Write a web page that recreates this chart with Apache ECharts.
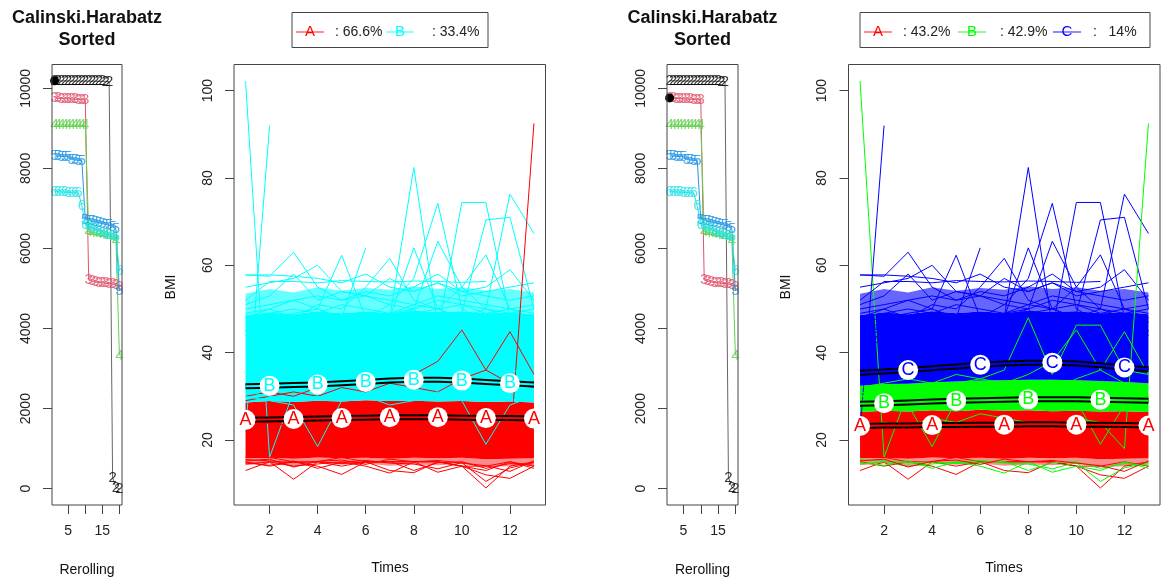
<!DOCTYPE html>
<html>
<head>
<meta charset="utf-8">
<script src="https://cdn.jsdelivr.net/npm/echarts@6/dist/echarts.min.js"></script>
<style>
html, body { margin: 0; background: #fff; }
#chart { width: 1161px; height: 581px; }
</style>
</head>
<body>
<div id="chart"></div>
<script>
// criterion values (Calinski.Harabatz) per reroll, sorted, for 2..6 clusters
var rerolls = [1, 2, 3, 4, 5, 6, 7, 8, 9, 10, 11, 12, 13, 14, 15, 16, 17, 18, 19, 20];
var crit2 = [10188, 10187, 10186, 10185, 10184, 10183, 10182, 10181, 10180, 10179, 10178, 10177, 10176, 10175, 10174, 10172, 10170, 280, 30, 0];
var crit3 = [9760, 9750, 9745, 9740, 9735, 9730, 9725, 9720, 9715, 9710, 5210, 5180, 5160, 5150, 5140, 5130, 5120, 5110, 5090, 5030];
var crit4 = [9090, 9088, 9086, 9085, 9084, 9083, 9082, 9081, 9080, 9078, 6420, 6400, 6380, 6370, 6350, 6330, 6300, 6280, 6200, 3330];
var crit5 = [8310, 8305, 8300, 8295, 8290, 8220, 8210, 8200, 8190, 6720, 6700, 6680, 6660, 6640, 6620, 6600, 6580, 6550, 6480, 4950];
var crit6 = [7420, 7415, 7410, 7405, 7400, 7395, 7390, 7385, 7060, 6600, 6560, 6520, 6480, 6440, 6400, 6370, 6340, 6310, 6280, 5430];
var critTicks = [0, 2000, 4000, 6000, 8000, 10000];
var rerollTicks = [5, 10, 15, 20];
var rerollLabels = [5, 15];

// trajectories (BMI over times)
var times = [1, 2, 3, 4, 5, 6, 7, 8, 9, 10, 11, 12, 13];
var timeTicks = [2, 4, 6, 8, 10, 12];
var bmiTicks = [20, 40, 60, 80, 100];

// edges of the dense bundles of trajectories
var bandFloor = [14.2, 14.6, 14.0, 14.8, 14.3, 14.6, 14.1, 14.4, 14.2, 14.5, 13.8, 14.0, 14.3];
var redLow = [15.8, 15.9, 15.7, 16.0, 15.8, 15.9, 15.7, 15.9, 15.8, 15.9, 15.6, 15.7, 15.8];
var redTop2 = [28.6, 28.9, 28.7, 29.0, 28.8, 29.1, 28.9, 29.0, 28.8, 28.9, 28.7, 28.8, 28.6];
var redTop3 = [26.4, 26.7, 26.5, 26.8, 26.6, 26.9, 26.7, 26.8, 26.6, 26.7, 26.5, 26.6, 26.4];
var greenTop3 = [32.4, 32.8, 32.9, 33.2, 33.4, 33.6, 33.7, 33.8, 33.8, 33.7, 33.5, 33.3, 33.0];
var upperTop = [48.6, 49.2, 48.8, 49.5, 49.0, 49.4, 49.1, 49.6, 49.3, 49.5, 49.0, 49.2, 48.8];
var upperFaint = [53.5, 54.6, 53.8, 55.0, 54.2, 54.8, 54.4, 55.2, 54.6, 55.0, 54.2, 54.6, 53.8];

// single trajectories that stand out of the bundles
var trajectories = [
    [102.2, 16.0, 31.0, 33.0, 30.5, 32.0, 31.0, 33.0, 30.0, 32.0, 31.0, 30.0, 29.5],
    [22.0, 92.0, null, 46.0, 47.0, 45.0, 48.0, 46.0, 44.0, 47.0, 45.0, 46.0, 44.0],
    [41.0, 43.0, 42.0, 44.0, 45.0, 46.0, 48.0, 82.4, 46.0, 44.0, 45.0, 43.0, 44.0],
    [44.0, 45.0, 43.0, 46.0, 47.0, 48.0, 51.0, 57.0, 74.2, 50.0, 47.0, 46.0, 45.0],
    [43.0, 44.0, 45.0, 44.0, 46.0, 47.0, 48.0, 50.0, 45.0, 74.4, 74.4, 48.0, 47.0],
    [45.0, 46.0, 44.0, 45.0, 47.0, 46.0, 45.0, 47.0, 48.0, 49.0, 70.4, 71.0, 50.0],
    [44.0, 43.0, 45.0, 46.0, 44.0, 47.0, 45.0, 46.0, 47.0, 48.0, 50.0, 76.3, 67.3],
    [46.0, 45.0, 47.0, 46.0, 48.0, 47.0, 49.0, 50.0, 65.5, 55.0, 50.0, 48.0, 47.0],
    [45.0, 47.0, 46.0, 48.0, 47.0, 49.0, 48.0, 64.0, 50.0, 48.0, 47.0, 46.0, 45.0],
    [57.8, 57.5, 63.0, 55.0, 52.0, 53.0, 51.0, 50.0, 52.0, 51.0, 50.0, 49.0, 50.0],
    [48.0, 50.0, 52.0, 50.0, 62.3, 48.0, 47.0, 49.0, 50.0, 48.0, 47.0, 46.0, 48.0],
    [47.0, 48.0, 49.0, 50.0, 48.0, 64.0, null, null, null, null, null, null, null],
    [49.0, 50.0, 48.0, 51.0, 50.0, 55.0, 61.6, 52.0, 50.0, 51.0, 49.0, 50.0, 48.0],
    [48.0, 49.0, 50.0, 49.0, 51.0, 50.0, 49.0, 51.0, 50.0, 55.0, 62.4, 50.0, 49.0],
    [55.0, 56.0, 57.0, 60.0, 54.0, 53.0, 52.0, 51.0, 53.0, 52.0, 51.0, 50.0, 51.0],
    [57.8, 57.8, 57.5, 57.0, 56.0, 58.0, 55.0, 54.0, 56.0, 54.0, 53.0, 52.0, 53.0],
    [52.0, 56.3, 56.3, 56.0, 56.5, 56.3, 56.2, 56.4, 56.3, 56.1, 56.3, null, null],
    [50.0, 51.0, 52.0, 53.0, 52.0, 54.0, 53.0, 55.0, 58.0, 54.0, 55.0, 59.0, 52.0],
    [51.0, 53.0, 58.0, 52.0, 54.0, 53.0, 57.0, 54.0, 56.0, 53.0, 54.0, 55.0, 56.0],
    [22.0, 24.0, 23.0, 25.0, 24.0, 26.0, 25.0, 24.0, 23.0, 25.0, 24.0, 18.0, 92.5],
    [32.0, 33.0, 34.0, 33.0, 35.0, 34.0, 36.0, 48.0, 35.0, 46.3, 46.3, 36.0, 35.0],
    [30.0, 31.0, 30.0, 32.0, 33.0, 34.0, 33.0, 35.0, 38.0, 45.2, 36.0, 33.0, 32.0],
    [29.0, 30.0, 31.0, 30.0, 32.0, 31.0, 33.0, 32.0, 31.0, 34.0, 36.0, 44.8, 35.0],
    [30.0, 29.0, 28.0, 18.5, 29.0, 30.0, 29.0, 30.0, 31.0, 29.0, 30.0, 29.0, 30.0],
    [31.0, 30.0, 29.0, 30.0, 29.0, 30.0, 28.0, 29.0, 30.0, 29.0, 19.0, 28.0, 30.0],
    [13.0, 15.0, 11.0, 15.0, 14.0, 15.0, 15.0, 15.0, 15.0, 14.0, 14.0, 15.0, 14.0],
    [16.0, 16.0, 15.0, 15.0, 16.0, 15.0, 15.0, 15.0, 15.0, 14.0, 9.0, 14.0, 15.0],
    [15.0, 14.0, 15.0, 14.0, 12.1, 15.0, 13.0, 12.5, 15.0, 14.0, 12.0, 11.2, 14.0],
    [14.5, 15.0, 14.0, 14.5, 15.0, 14.0, 12.4, 15.0, 12.6, 14.0, 13.0, 15.0, 13.5],
    [15.5, 15.2, 14.8, 15.0, 14.6, 14.9, 15.1, 13.0, 14.8, 15.0, 13.5, 14.6, 14.2],
    [14.8, 14.2, 15.2, 13.5, 14.9, 15.3, 14.7, 14.5, 13.4, 14.8, 10.5, 13.6, 14.8],
    [15.2, 15.6, 13.8, 15.1, 15.4, 14.4, 15.6, 15.0, 15.3, 14.7, 14.1, 12.8, 15.2]
];
var cluster2 = ['B', 'B', 'B', 'B', 'B', 'B', 'B', 'B', 'B', 'B', 'B', 'B', 'B', 'B', 'B', 'B',
    'B', 'B', 'B', 'A', 'B', 'A', 'A', 'B', 'B', 'A', 'A', 'A', 'A', 'A', 'A', 'A'];
var cluster3 = ['B', 'C', 'C', 'C', 'C', 'C', 'C', 'C', 'C', 'C', 'C', 'C', 'C', 'C', 'C', 'C',
    'C', 'C', 'C', 'B', 'B', 'B', 'B', 'B', 'B', 'A', 'A', 'A', 'B', 'B', 'B', 'A'];

// mean trajectories
var meanA2 = [24.6, 24.7, 24.8, 24.9, 25.0, 25.1, 25.2, 25.2, 25.2, 25.1, 25.0, 25.0, 24.9];
var meanB2 = [32.3, 32.4, 32.6, 32.7, 33.0, 33.3, 33.6, 33.8, 33.8, 33.6, 33.3, 33.0, 32.7];
var meanA3 = [23.2, 23.3, 23.3, 23.4, 23.4, 23.5, 23.5, 23.6, 23.6, 23.5, 23.5, 23.4, 23.3];
var meanB3 = [28.3, 28.4, 28.6, 28.8, 29.0, 29.1, 29.2, 29.3, 29.3, 29.3, 29.2, 29.1, 29.0];
var meanC3 = [35.4, 35.7, 36.0, 36.4, 36.8, 37.2, 37.5, 37.7, 37.7, 37.5, 37.1, 36.6, 36.2];
var marksA2 = [1, 3, 5, 7, 9, 11, 13];
var marksB2 = [2, 4, 6, 8, 10, 12];
var marksA3 = [1, 4, 7, 10, 13];
var marksB3 = [2, 5, 8, 11];
var marksC3 = [3, 6, 9, 12];

// legends
var legend2Names = ['A', 'B'];
var legend2Pct = [': 66.6%', ': 33.4%'];
var legend3Names = ['A', 'B', 'C'];
var legend3Pct = [': 43.2%', ': 42.9%', ':   14%'];

var FONT = '"Liberation Sans", Arial, sans-serif';
var critColors = ['#000000', '#DF536B', '#61D04F', '#2297E6', '#28E2E5'];
var clusterColors = { A: '#FF0000', B: '#00FFFF' };
var clusterColors3 = { A: '#FF0000', B: '#00FF00', C: '#0000FF' };

var myChart = echarts.init(document.getElementById('chart'), null, { renderer: 'canvas' });

var boxes = [[52, 70], [234, 311.5], [667, 71], [848.5, 311.5]];
function boxGrid(b) {
    return { left: b[0], top: 64.5, width: b[1], height: 440.5, show: false };
}
function xAxisFor(gi, min, max, ticks, labels) {
    return {
        type: 'value', gridIndex: gi, min: min, max: max,
        axisLine: { show: false, onZero: false }, splitLine: { show: false },
        axisTick: { show: true, length: 9, customValues: ticks, lineStyle: { color: '#444' } },
        axisLabel: { customValues: labels, margin: 19, fontSize: 14, color: '#222', fontFamily: FONT }
    };
}
function yAxisFor(gi, min, max, ticks) {
    return {
        type: 'value', gridIndex: gi, min: min, max: max,
        axisLine: { show: false, onZero: false }, splitLine: { show: false },
        axisTick: { show: true, length: 9, customValues: ticks, lineStyle: { color: '#444' } },
        axisLabel: { customValues: ticks, rotate: 90, margin: 19, fontSize: 14, color: '#222', fontFamily: FONT,
            formatter: function(v) { return String(v); } }
    };
}
function pairs(xs, ys) {
    return xs.map(function(x, i) { return [x, ys[i]]; });
}

var series = [];

// sorted criterion panels
[crit2, crit3, crit4, crit5, crit6].forEach(function(vals, k) {
    [0, 2].forEach(function(gi) {
        series.push({
            type: 'line', z: 3, xAxisIndex: gi, yAxisIndex: gi, data: pairs(rerolls, vals),
            symbol: 'none', lineStyle: { color: k === 0 ? '#666' : critColors[k], width: 1 }
        });
        series.push({
            type: 'scatter', z: 4, xAxisIndex: gi, yAxisIndex: gi, data: pairs(rerolls, vals),
            symbolSize: 1, itemStyle: { color: 'rgba(0,0,0,0)' },
            label: { show: true, position: 'inside', formatter: String(k + 2),
                color: critColors[k], fontSize: 15, fontFamily: FONT }
        });
    });
});
series.push({ type: 'scatter', z: 5, xAxisIndex: 0, yAxisIndex: 0, data: [[rerolls[0], crit2[0]]],
    symbolSize: 9, itemStyle: { color: '#000', opacity: 1 } });
series.push({ type: 'scatter', z: 5, xAxisIndex: 2, yAxisIndex: 2, data: [[rerolls[0], crit3[0]]],
    symbolSize: 9, itemStyle: { color: '#000', opacity: 1 } });

// bundles of trajectories: polygon between a lower and an upper edge
function band(gi, lower, upper, fill) {
    series.push({
        type: 'custom', z: 1, xAxisIndex: gi, yAxisIndex: gi, silent: true,
        data: [[times[0], upper[0]]],
        renderItem: function(params, api) {
            var pts = [];
            times.forEach(function(t, i) { pts.push(api.coord([t, upper[i]])); });
            for (var i = times.length - 1; i >= 0; i--) pts.push(api.coord([times[i], lower[i]]));
            return { type: 'polygon', shape: { points: pts }, style: { fill: fill } };
        }
    });
}
band(1, bandFloor, redLow, 'rgba(255,0,0,0.45)');
band(1, redLow, redTop2, '#FF0000');
band(1, redTop2, upperTop, '#00FFFF');
band(1, upperTop, upperFaint, 'rgba(0,255,255,0.6)');
band(3, bandFloor, redLow, 'rgba(255,0,0,0.45)');
band(3, redLow, redTop3, '#FF0000');
band(3, redTop3, greenTop3, '#00FF00');
band(3, greenTop3, upperTop, '#0000FF');
band(3, upperTop, upperFaint, 'rgba(0,0,255,0.6)');

trajectories.forEach(function(tr, j) {
    series.push({ type: 'line', z: 2, xAxisIndex: 1, yAxisIndex: 1, data: pairs(times, tr), symbol: 'none',
        lineStyle: { color: clusterColors[cluster2[j]], width: 1 } });
    series.push({ type: 'line', z: 2, xAxisIndex: 3, yAxisIndex: 3, data: pairs(times, tr), symbol: 'none',
        lineStyle: { color: clusterColors3[cluster3[j]], width: 1 } });
});

function meanLine(gi, vals, color, letter, marks) {
    series.push({ type: 'line', z: 3, xAxisIndex: gi, yAxisIndex: gi, data: pairs(times, vals), symbol: 'none',
        lineStyle: { color: '#000', width: 6 } });
    series.push({ type: 'line', z: 3, xAxisIndex: gi, yAxisIndex: gi, data: pairs(times, vals), symbol: 'none',
        lineStyle: { color: color, width: 2 } });
    series.push({ type: 'scatter', z: 6, xAxisIndex: gi, yAxisIndex: gi, symbolSize: 20,
        data: marks.map(function(t) { return [t, vals[t - 1]]; }),
        itemStyle: { color: '#fff', opacity: 1 },
        label: { show: true, position: 'inside', formatter: letter, color: color, fontSize: 18, fontFamily: FONT } });
}
meanLine(1, meanA2, clusterColors.A, 'A', marksA2);
meanLine(1, meanB2, clusterColors.B, 'B', marksB2);
meanLine(3, meanA3, clusterColors3.A, 'A', marksA3);
meanLine(3, meanB3, clusterColors3.B, 'B', marksB3);
meanLine(3, meanC3, clusterColors3.C, 'C', marksC3);

// frames, titles, axis names and legends
var graphics = [];
boxes.forEach(function(b) {
    graphics.push({ type: 'rect', z: 100, shape: { x: b[0], y: 64.5, width: b[1], height: 440.5 },
        style: { fill: null, stroke: '#444', lineWidth: 1 } });
});
function txt(text, x, y, font, rot) {
    graphics.push({ type: 'text', x: x, y: y, rotation: rot || 0,
        style: { text: text, font: font, fill: '#111', textAlign: 'center', textVerticalAlign: 'middle', verticalAlign: 'middle' } });
}
[87, 702.5].forEach(function(cx) {
    txt('Calinski.Harabatz', cx, 18, 'bold 18px ' + FONT);
    txt('Sorted', cx, 40, 'bold 18px ' + FONT);
    txt('Rerolling', cx, 570, '14px ' + FONT);
});
txt('Times', 390, 568, '14px ' + FONT);
txt('Times', 1004, 568, '14px ' + FONT);
txt('BMI', 171, 287, '14px ' + FONT, Math.PI / 2);
txt('BMI', 786, 287, '14px ' + FONT, Math.PI / 2);

function legendBox(x0, x1, names, pcts, colors, lineStarts, textStarts) {
    graphics.push({ type: 'rect', shape: { x: x0, y: 12.5, width: x1 - x0, height: 35 },
        style: { fill: '#fff', stroke: '#444', lineWidth: 1 } });
    names.forEach(function(n, i) {
        var lx = lineStarts[i];
        graphics.push({ type: 'line', shape: { x1: lx, y1: 32, x2: lx + 28, y2: 32 },
            style: { stroke: colors[n], lineWidth: 1.5, opacity: 0.6 } });
        graphics.push({ type: 'text', x: lx + 14, y: 32,
            style: { text: n, font: '15px ' + FONT, fill: colors[n], textAlign: 'center', textVerticalAlign: 'middle', verticalAlign: 'middle' } });
        graphics.push({ type: 'text', x: textStarts[i], y: 32,
            style: { text: pcts[i], font: '14px ' + FONT, fill: '#222', textAlign: 'left', textVerticalAlign: 'middle', verticalAlign: 'middle' } });
    });
}
legendBox(292, 488, legend2Names, legend2Pct, clusterColors, [296, 386], [335, 432]);
legendBox(860, 1150, legend3Names, legend3Pct, clusterColors3, [864, 958, 1053], [903, 1000, 1093]);

var option = {
    animation: false,
    backgroundColor: '#fff',
    grid: boxes.map(boxGrid),
    xAxis: [
        xAxisFor(0, 0.24, 20.76, rerollTicks, rerollLabels),
        xAxisFor(1, 0.52, 13.48, timeTicks, timeTicks),
        xAxisFor(2, 0.24, 20.76, rerollTicks, rerollLabels),
        xAxisFor(3, 0.52, 13.48, timeTicks, timeTicks)
    ],
    yAxis: [
        yAxisFor(0, -407, 10595, critTicks),
        yAxisFor(1, 5.1, 106, bmiTicks),
        yAxisFor(2, -407, 10595, critTicks),
        yAxisFor(3, 5.1, 106, bmiTicks)
    ],
    series: series,
    graphic: graphics
};
myChart.setOption(option);
</script>
</body>
</html>
